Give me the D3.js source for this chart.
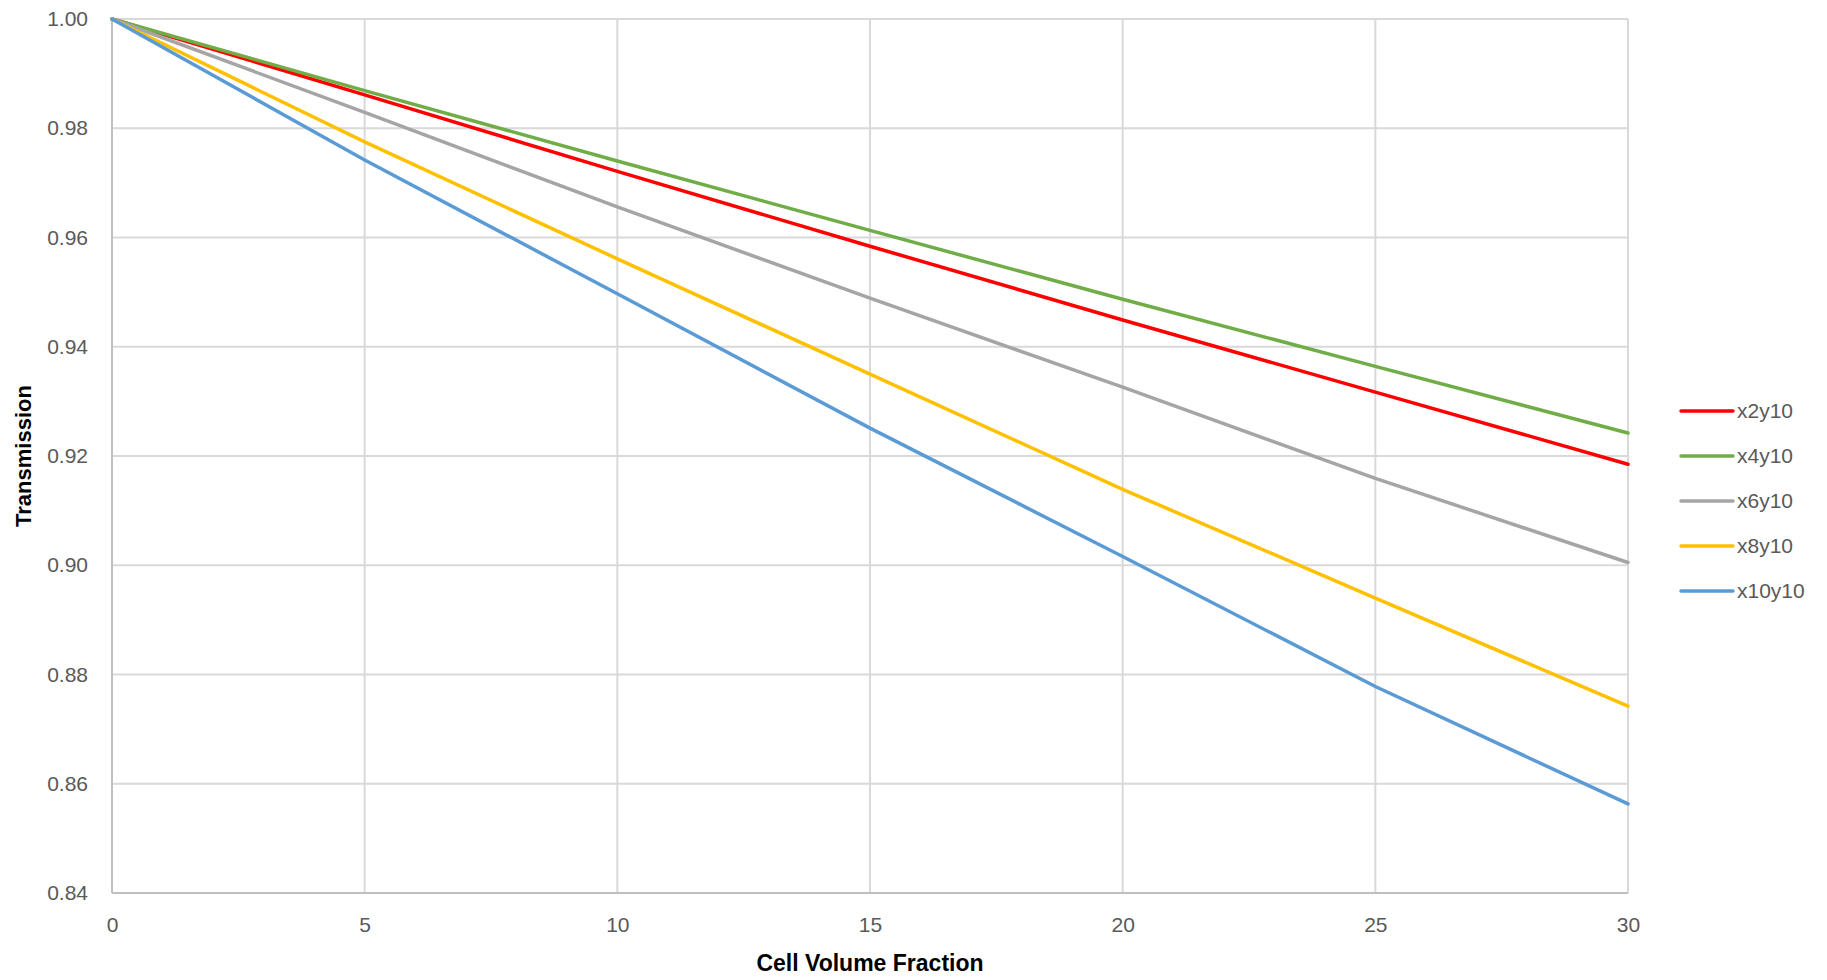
<!DOCTYPE html>
<html><head><meta charset="utf-8">
<script src="https://cdn.jsdelivr.net/npm/d3@7"></script>
<style>body{margin:0;background:#fff}svg{display:block}</style>
</head><body>
<svg id="c" width="1827" height="980"></svg>
<script>
const xValues = [0, 5, 10, 15, 20, 25, 30];
const seriesNames = ["x2y10", "x4y10", "x6y10", "x8y10", "x10y10"];
const seriesColors = ["#ff0000", "#70ad47", "#a5a5a5", "#ffc000", "#5b9bd5"];
const x2y10 = [1.0, 0.9861, 0.9721, 0.9584, 0.9449, 0.9317, 0.9185];
const x4y10 = [1.0, 0.9869, 0.9740, 0.9613, 0.9487, 0.9364, 0.9242];
const x6y10 = [1.0, 0.9829, 0.9656, 0.9489, 0.9326, 0.9159, 0.9005];
const x8y10 = [1.0, 0.9775, 0.9561, 0.9350, 0.9139, 0.8940, 0.8742];
const x10y10 = [1.0, 0.9742, 0.9497, 0.9251, 0.9016, 0.8778, 0.8563];
const xTicks = [0, 5, 10, 15, 20, 25, 30];
const yTicks = [0.84, 0.86, 0.88, 0.90, 0.92, 0.94, 0.96, 0.98, 1.00];
const seriesData = [x2y10, x4y10, x6y10, x8y10, x10y10];

const svg = d3.select("#c");
const L = 112, R = 1628, T = 19, B = 893;
const x = d3.scaleLinear().domain([0, 30]).range([L, R]);
const y = d3.scaleLinear().domain([0.84, 1.0]).range([B, T]);
const font = "'Liberation Sans', Arial, sans-serif";

// gridlines
svg.append("g").selectAll("line.h").data(yTicks).join("line")
  .attr("x1", L).attr("x2", R).attr("y1", d => y(d)).attr("y2", d => y(d))
  .attr("stroke", "#d9d9d9").attr("stroke-width", 2);
svg.append("g").selectAll("line.v").data(xTicks).join("line")
  .attr("y1", T).attr("y2", B).attr("x1", d => x(d)).attr("x2", d => x(d))
  .attr("stroke", "#d9d9d9").attr("stroke-width", 2);
// axis lines
svg.append("line").attr("x1", L).attr("x2", R).attr("y1", B).attr("y2", B).attr("stroke", "#bfbfbf").attr("stroke-width", 2);
svg.append("line").attr("x1", L).attr("x2", L).attr("y1", T).attr("y2", B).attr("stroke", "#bfbfbf").attr("stroke-width", 2);

// tick labels via axes
const yAxis = svg.append("g").attr("transform", `translate(${L},0)`)
  .call(d3.axisLeft(y).tickValues(yTicks).tickFormat(d3.format(".2f")).tickSize(0).tickPadding(24));
yAxis.select(".domain").remove();
yAxis.selectAll("text").attr("font-family", font).attr("font-size", 21).attr("fill", "#595959");
const xAxis = svg.append("g").attr("transform", `translate(0,${B})`)
  .call(d3.axisBottom(x).tickValues(xTicks).tickFormat(d3.format("d")).tickSize(0).tickPadding(24));
xAxis.select(".domain").remove();
xAxis.selectAll("text").attr("font-family", font).attr("font-size", 21).attr("fill", "#595959");

// lines
const line = d3.line().x((d, i) => x(xValues[i])).y(d => y(d));
seriesData.forEach((s, k) => {
  svg.append("path").datum(s).attr("d", line).attr("fill", "none")
    .attr("stroke", seriesColors[k]).attr("stroke-width", 3.5).attr("stroke-linecap", "round");
});

// axis titles
svg.append("text").attr("x", (L + R) / 2).attr("y", 971).attr("text-anchor", "middle")
  .attr("font-family", font).attr("font-weight", "bold").attr("font-size", 23).attr("fill", "#000")
  .text("Cell Volume Fraction");
svg.append("text").attr("transform", `translate(31,${(T + B) / 2}) rotate(-90)`).attr("text-anchor", "middle")
  .attr("font-family", font).attr("font-weight", "bold").attr("font-size", 22).attr("fill", "#000")
  .text("Transmission");

// legend
const lg = svg.append("g");
seriesNames.forEach((n, k) => {
  const yy = 411 + k * 45;
  lg.append("line").attr("x1", 1681).attr("x2", 1733).attr("y1", yy).attr("y2", yy)
    .attr("stroke", seriesColors[k]).attr("stroke-width", 3.5).attr("stroke-linecap", "round");
  lg.append("text").attr("x", 1737).attr("y", yy).attr("dy", "0.35em")
    .attr("font-family", font).attr("font-size", 21).attr("fill", "#595959").text(n);
});
</script>
</body></html>
